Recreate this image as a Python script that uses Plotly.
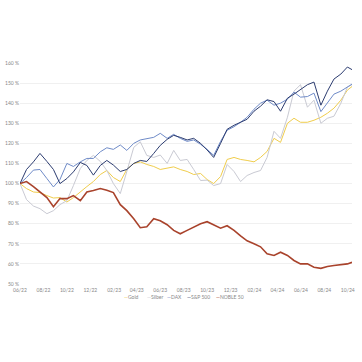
import plotly.graph_objects as go

dates = [
    "2022-06-01", "2022-06-18", "2022-07-06", "2022-07-23", "2022-08-10", "2022-08-27",
    "2022-09-13", "2022-10-01", "2022-10-18", "2022-11-05", "2022-11-22", "2022-12-09",
    "2022-12-27", "2023-01-13", "2023-01-30", "2023-02-17", "2023-03-06", "2023-03-24",
    "2023-04-10", "2023-04-27", "2023-05-15", "2023-06-01", "2023-06-19", "2023-07-06",
    "2023-07-23", "2023-08-10", "2023-08-27", "2023-09-14", "2023-10-01", "2023-10-18",
    "2023-11-05", "2023-11-22", "2023-12-10", "2023-12-27", "2024-01-13", "2024-01-31",
    "2024-02-17", "2024-03-05", "2024-03-23", "2024-04-09", "2024-04-27", "2024-05-14",
    "2024-05-31", "2024-06-18", "2024-07-05", "2024-07-23", "2024-08-09", "2024-08-26",
    "2024-09-13", "2024-09-30", "2024-10-12",
]

gold = [100, 97.5, 95.8, 95.5, 94, 92.8, 93, 90.8, 93, 96, 98.5, 101, 104.5, 106.5, 103,
        101, 107, 110, 110.8, 109.5, 108.5, 107, 107.5, 108.3, 107, 106, 104.5, 105, 102,
        100, 103.5, 112, 113, 112, 111.5, 110.8, 113, 116, 122.5, 120.5, 130, 132.5, 130.5,
        130.5, 131.5, 133, 135, 137.5, 141.5, 146.5, 148.3]

silber = [100, 92, 88.8, 87.5, 85, 86.5, 89.5, 91.5, 99, 107.5, 111.5, 114, 111, 106.5, 100,
          95, 106, 118, 120.8, 114, 113, 114.2, 110, 116.5, 111.5, 112, 107, 101.5, 101.7,
          99, 100, 109.5, 106, 101, 104, 105.5, 106.5, 113, 126, 122.5, 133, 146, 149.2,
          138, 141.5, 130, 132.5, 133.5, 140, 148, 149.2]

dax = [100, 103, 106.7, 107, 102.5, 98.3, 102, 110, 108.5, 110.8, 112.5, 112.5, 115.8, 117.8,
       117, 119.2, 116.5, 120, 121.7, 122.5, 123, 125, 122.5, 124.5, 122.5, 121, 121.7, 119.5,
       117, 114, 121, 126.5, 128.3, 130.5, 133, 137, 140, 141.5, 139, 140, 142, 145.5, 143,
       143.3, 145, 135.8, 140, 144.5, 146, 148.3, 149.5]

sp500 = [100, 107, 110.8, 115, 111, 107, 100, 102.5, 105.8, 110.5, 109, 104.2, 109, 111.5,
         109.2, 106, 107, 110, 111.5, 111, 115, 119, 122, 124, 123, 121.7, 122.5, 120, 116.7,
         113, 120, 127, 129, 130.5, 132, 136, 138.5, 141.7, 140.8, 136, 142.5, 144.5, 147,
         149.2, 150.5, 139, 146, 152, 154.5, 158, 156.7]

noble50 = [100, 101, 98.5, 96, 93, 88.5, 92.5, 92.5, 94, 91.5, 95.8, 96.5, 97.5, 96.7, 95.5,
           89.5, 86.5, 82.5, 78, 78.5, 82.5, 81.5, 79.5, 76.7, 75, 76.7, 78.5, 80, 81, 79.5,
           77.8, 79, 76.7, 74, 71.5, 70, 68.5, 65, 64.2, 65.8, 64.2, 61.7, 60, 60, 58.3, 57.8,
           58.7, 59.2, 59.7, 60, 60.8]

series_names = ["Gold", "Silber", "DAX", "S&P 500", "NOBLE 50"]
series_values = [gold, silber, dax, sp500, noble50]
series_colors = ["#f0cd4c", "#c9cad3", "#6f8bc8", "#2c3c70", "#a9432c"]
series_widths = [1, 1, 1, 1, 1.6]
legend_x = [0.307, 0.377, 0.437, 0.497, 0.584]

fig = go.Figure()
for name, vals, color, w in zip(series_names, series_values, series_colors, series_widths):
    fig.add_trace(go.Scatter(x=dates, y=vals, mode="lines", name=name,
                             line=dict(color=color, width=w), showlegend=False))

for name, color, lx in zip(series_names, series_colors, legend_x):
    fig.add_annotation(
        text=f'<span style="color:{color}">—</span>{name}',
        xref="paper", yref="paper", x=lx, y=-0.059, xanchor="left", yanchor="middle",
        showarrow=False, font=dict(size=5, color="#888"),
    )

fig.update_layout(
    width=362, height=362,
    margin=dict(l=20, r=10, t=63, b=78),
    paper_bgcolor="white", plot_bgcolor="white",
    font=dict(family="Lato, sans-serif", size=5, color="#888"),
)
fig.update_xaxes(
    type="date", range=["2022-06-01", "2024-10-12"], dtick="M2", tick0="2022-06-01",
    tickformat="%m/%y", showgrid=False, zeroline=False, showline=False,
    ticks="", tickfont=dict(size=5, color="#888"), automargin=False, ticklabelstandoff=2,
)
fig.update_yaxes(
    range=[50, 160], dtick=10, ticksuffix=" %", showgrid=True, gridcolor="#f0f0f0",
    gridwidth=1, zeroline=False, showline=False, ticks="", tickfont=dict(size=5, color="#888"),
    automargin=False,
)

fig.write_html("out.html", config={"displayModeBar": False},
               post_script="document.body.style.margin='0';")
